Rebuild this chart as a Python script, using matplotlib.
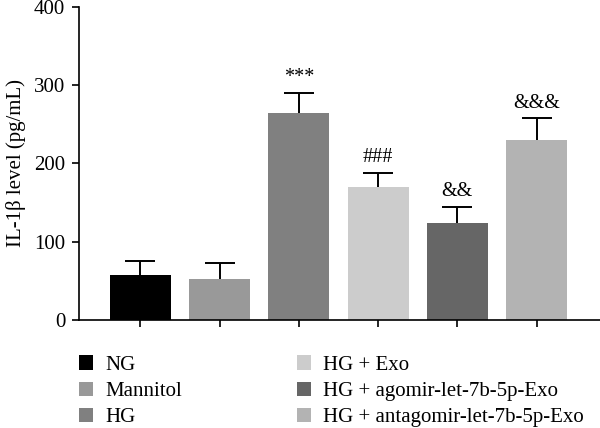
import numpy as np
import matplotlib.pyplot as plt
from matplotlib.patches import Patch

plt.rcParams['font.family'] = ['Liberation Serif', 'DejaVu Serif']

groups = ['NG', 'Mannitol', 'HG', 'HG + Exo', 'HG + agomir-let-7b-5p-Exo',
          'HG + antagomir-let-7b-5p-Exo']
means = [57.5, 52, 264, 170, 123.5, 229.5]
errs = [18, 21, 26, 18, 21.5, 28.5]
marks = ['', '', '***', '###', '&&', '&&&']
colors = ['#000000', '#999999', '#808080', '#cccccc', '#666666', '#b3b3b3']

fig = plt.figure(figsize=(6, 4.28), dpi=100)
ax = fig.add_axes([0.132, 0.252, 0.868, 0.732])

x = np.arange(len(groups))
ax.bar(x, means, width=0.77, color=colors, zorder=2)
eb = ax.errorbar(x, means, yerr=[np.zeros(len(errs)), errs], fmt='none',
                 ecolor='black', elinewidth=1.4, capsize=10.5, capthick=1.4,
                 zorder=1)
# hide the cap sitting on the bar top
eb[1][0].set_visible(False)

for xi, m, e, t in zip(x, means, errs, marks):
    if t:
        ax.annotate(t, (xi, m + e), xytext=(0, 4), textcoords='offset points',
                    ha='center', va='bottom', fontsize=14.5)

ax.set_xlim(-0.77, 5.8)
ax.set_ylim(0, 400)
ax.set_yticks([0, 100, 200, 300, 400])
ax.set_xticks(x)
ax.set_xticklabels([])
ax.set_ylabel('IL-1β level (pg/mL)', fontsize=15, labelpad=6)
ax.tick_params(axis='both', direction='out', length=5, width=1.2,
               labelsize=15, pad=5)
for s in ['top', 'right']:
    ax.spines[s].set_visible(False)
for s in ['left', 'bottom']:
    ax.spines[s].set_linewidth(1.2)

handles = [Patch(facecolor=c, edgecolor='none') for c in colors]
fig.legend(handles, groups, loc='upper left', bbox_to_anchor=(0.132, 0.17),
           ncol=2, frameon=False, fontsize=15, handlelength=0.68,
           handleheight=0.68, handletextpad=0.58, columnspacing=5.5,
           labelspacing=0.33, borderpad=0, borderaxespad=0)

fig.savefig('out.png', dpi=100)
